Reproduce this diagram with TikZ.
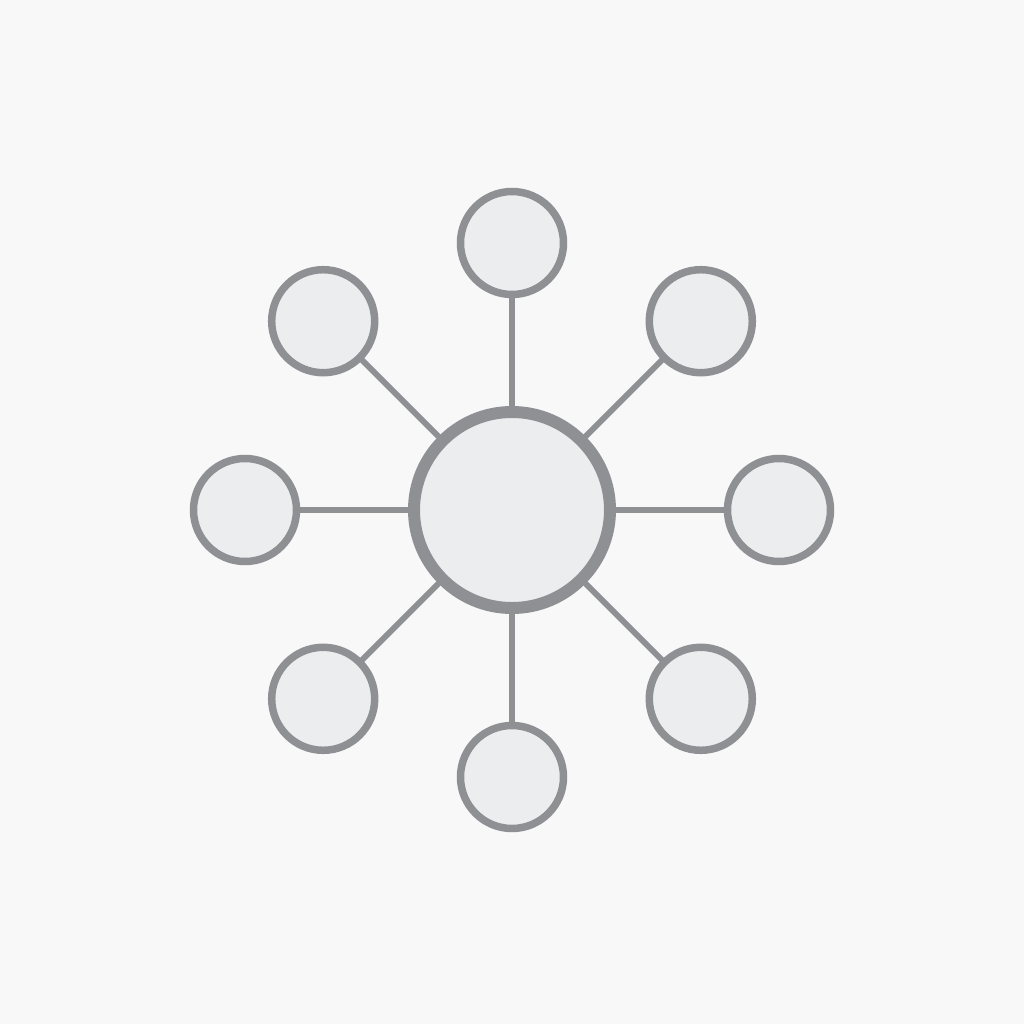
\documentclass[tikz,border=0pt]{standalone}
\usepackage{tikz}
\usetikzlibrary{arrows.meta}
\usetikzlibrary{calc}
\definecolor{ringgray}{HTML}{8E9094}
\definecolor{discfill}{HTML}{ECEDEF}
\definecolor{paper}{HTML}{F8F8F8}

\begin{document}
\begin{tikzpicture}[-,line cap=round,
	hub/.style={draw=ringgray,fill=discfill,circle,line width=1.2mm,minimum size=19.6mm,inner sep=0pt},
	leaf/.style={draw=ringgray,fill=discfill,circle,line width=0.75mm,minimum size=10.3mm,inner sep=0pt},
	spoke/.style={draw=ringgray,line width=0.6mm}]
		\fill[paper] (0,0) rectangle (10.24,10.24);
		\useasboundingbox (0,0) rectangle (10.24,10.24);
		\node[hub] (c) at (5.12,5.14) {};
		\foreach \a in {0,45,...,315}
		{
			\node[leaf] (s\a) at ($(c)+(\a:2.67)$) {};
			\draw[spoke] (c) -- (s\a);
		}
		\end{tikzpicture}
\end{document}
